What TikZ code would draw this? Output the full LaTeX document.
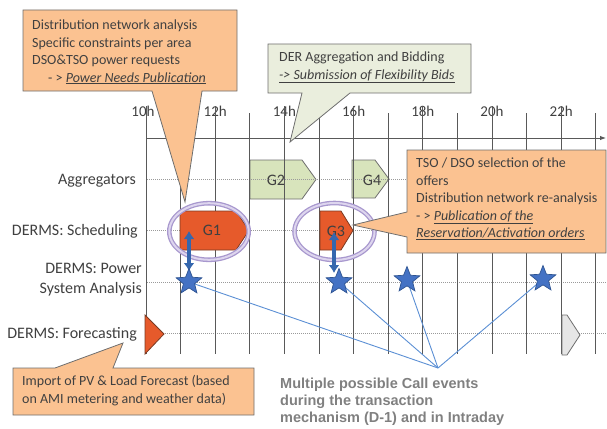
\documentclass[tikz,border=0pt]{standalone}
\usepackage{fontspec}
\setmainfont{Carlito}
\newfontfamily\arialfont{Liberation Sans}
\usetikzlibrary{shapes.geometric,arrows.meta}

\definecolor{textgray}{HTML}{404040}
\definecolor{gridgray}{HTML}{595959}
\definecolor{dotgray}{HTML}{9A9A9A}
\definecolor{calloutorange}{HTML}{FBC291}
\definecolor{calloutgreen}{HTML}{EAEEDD}
\definecolor{borderline}{HTML}{6E6E6E}
\definecolor{gorange}{HTML}{E65A2B}
\definecolor{gorangeline}{HTML}{7A3A22}
\definecolor{ggreen}{HTML}{D8E4BC}
\definecolor{ggray}{HTML}{E6E6E6}
\definecolor{ellpurple}{HTML}{A898CE}
\definecolor{ellinner}{HTML}{DDD5EE}
\definecolor{arrowblue}{HTML}{3567AE}
\definecolor{starblue}{HTML}{4472C4}
\definecolor{starline}{HTML}{2E5492}
\definecolor{linkblue}{HTML}{5B8FD4}
\definecolor{calltext}{HTML}{808080}

\begin{document}
\begin{tikzpicture}[x=1pt,y=-1pt,
  ctext/.style={font=\fontsize{14}{17.5}\selectfont, text=textgray, align=left, anchor=base west, inner sep=0pt},
  rowlabel/.style={font=\fontsize{16}{20}\selectfont, text=textgray, align=right, anchor=base east, inner sep=0pt},
  hourlabel/.style={font=\fontsize{15}{18}\selectfont, text=textgray, anchor=base, inner sep=0pt},
  glabel/.style={font=\fontsize{16}{19}\selectfont, text=textgray, inner sep=0pt},
  gridline/.style={draw=gridgray, line width=0.9pt},
  rowline/.style={draw=dotgray, line width=0.6pt, dash pattern=on 0.8pt off 1.2pt},
  orangebox/.style={fill=calloutorange, draw=borderline, line width=0.8pt},
  greenbox/.style={fill=calloutgreen, draw=borderline, line width=0.8pt},
  gshape/.style={fill=ggreen, draw=borderline, line width=0.8pt},
  oshape/.style={fill=gorange, draw=gorangeline, line width=0.8pt},
  grayshape/.style={fill=ggray, draw=borderline, line width=0.8pt},
  ring/.style={draw=ellpurple, double=ellinner, line width=1.3pt, double distance=2pt},
  dblarrow/.style={draw=arrowblue, line width=4pt, {Latex[length=8pt,width=11pt]}-{Latex[length=8pt,width=11pt]}},
  starnode/.style={star, star points=5, star point ratio=2.3, minimum size=27pt, inner sep=0pt, fill=starblue, draw=starline, line width=0.7pt},
  link/.style={draw=linkblue, line width=0.9pt},
  calls/.style={font=\arialfont\bfseries\fontsize{14.5}{16.6}\selectfont, text=calltext, align=left, anchor=base west, inner sep=0pt}
]
\useasboundingbox (0,0) rectangle (607,428);

% green shapes (behind grid)
\path[gshape] (250,160) -- (302,160) -- (316,179.5) -- (302,199) -- (250,199) -- cycle;
\node[glabel] (g2) at (276,180) {G2};
\path[gshape] (352,160) -- (375,160) -- (389,179) -- (375,198) -- (352,198) -- cycle;
\node[glabel] (g4) at (372,180) {G4};

% row lines
\foreach \y in {179,230,282,333} \draw[rowline] (147,\y) -- (607,\y);

% hour labels
\node[hourlabel] (h10) at (143,116) {10h};
\foreach \h/\k in {12/2,14/4,16/6,18/8,20/10,22/12}
  \node[hourlabel] (h\h) at ({146+34.6*\k},116) {\h h};

% vertical lines
\foreach \k in {0,...,13} {
  \pgfmathsetmacro\yt{mod(\k,2)==0 ? 106 : 113}
  \draw[gridline] ({146+34.6*\k},\yt) -- ({146+34.6*\k},354);
}
% axis
\draw[gridline, -{Latex[length=6pt,width=4.5pt]}] (146,138) -- (606,138);

% orange and gray shapes
\path[oshape] (180,211) -- (236,211) -- (249,230.5) -- (236,250) -- (180,250) -- cycle;
\node[glabel] (g1) at (212,230) {G1};
\path[oshape] (320,211) -- (341,211) -- (353,230.5) -- (341,250) -- (320,250) -- cycle;
\node[glabel] (g3) at (336,231) {G3};
\path[oshape] (145,315) -- (164,334) -- (145,354) -- cycle;
\path[grayshape] (562,315) -- (567,315) -- (580,335) -- (567,355) -- (562,355) -- cycle;

% rings
\draw[ring] (209,231.5) ellipse [x radius=39.7, y radius=28.3];
\draw[ring] (334.5,231.5) ellipse [x radius=40, y radius=28.5];

% links to call events
\coordinate (conv) at (438,368);
\coordinate (c1) at (189,282);
\coordinate (c2) at (339,282);
\coordinate (c3) at (407,280);
\coordinate (c4) at (543,279);
\foreach \c in {c1,c2,c3,c4} \draw[link] (\c) -- (conv);

% double arrows
\coordinate (a1t) at (189,231);
\coordinate (a1b) at (189,271);
\coordinate (a3t) at (334,232);
\coordinate (a3b) at (334,273);
\draw[dblarrow] (a1t) -- (a1b);
\draw[dblarrow] (a3t) -- (a3b);

% stars
\node[starnode] (s1) at (c1) {};
\node[starnode] (s2) at (c2) {};
\node[starnode] (s3) at (c3) {};
\node[starnode] (s4) at (c4) {};

% row labels
\node[rowlabel] (lagg) at (136,184.5) {Aggregators};
\node[rowlabel] (lsch) at (138,235.5) {DERMS: Scheduling};
\node[rowlabel] (lpsa) at (142,293.5) {DERMS: Power\\System Analysis};
\node[rowlabel] (lfor) at (137,338.5) {DERMS: Forecasting};

% callout 1
\path[orangebox] (23,10) -- (237,10) -- (237,91) -- (202,91) -- (185,202) -- (152,91) -- (23,91) -- cycle;
\node[ctext] (t1) at (32,82) {Distribution network analysis\\Specific constraints per area\\DSO\&TSO power requests\\\hspace*{16pt}- > \underline{\textit{Power Needs Publication}}};

% callout 2
\path[greenbox] (268,44) -- (471,44) -- (471,93) -- (350,93) -- (290,142) -- (302,93) -- (268,93) -- cycle;
\node[ctext] (t2) at (279,79) {DER Aggregation and Bidding\\\underline{\textit{-> Submission of Flexibility Bids}}};

% callout 3
\path[orangebox] (407,150) -- (606,150) -- (606,253) -- (407,253) -- (407,237) -- (353,225) -- (407,212) -- cycle;
\node[ctext] (t3) at (416,237.5) {TSO / DSO selection of the\\offers\\Distribution network re-analysis\\- > \underline{\textit{Publication of the}}\\\underline{\textit{Reservation/Activation orders}}};

% callout 4
\path[orangebox] (13,368) -- (55,368) -- (123,343) -- (113,368) -- (254,368) -- (254,415) -- (13,415) -- cycle;
\node[ctext] (t4) at (22,403) {Import of PV \& Load Forecast (based\\on AMI metering and weather data)};

% call events text
\node[calls] (tcalls) at (280,422) {Multiple possible Call events\\during the transaction\\mechanism (D-1) and in Intraday};
\end{tikzpicture}
\end{document}
